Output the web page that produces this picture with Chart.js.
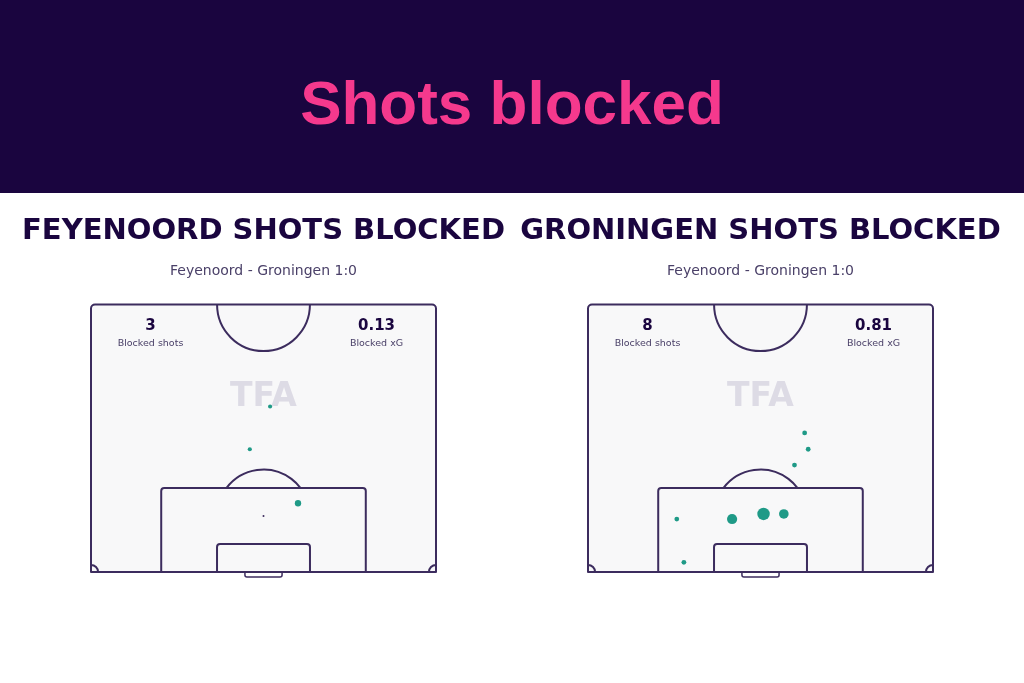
<!DOCTYPE html>
<html>
<head>
<meta charset="utf-8">
<script src="https://cdn.jsdelivr.net/npm/chart.js@4/dist/chart.umd.min.js"></script>
<style>
body{margin:0;background:#fff;width:1024px;height:683px;overflow:hidden;position:relative}
#topo{height:193px;background:#1a053f;position:relative}
#topo h1{margin:0;position:absolute;left:0;right:0;top:67px;text-align:center;color:#f5398d;font:bold 62px "Liberation Sans",Arial,sans-serif;line-height:normal}
.painel{position:absolute;top:193px;width:527px;height:490px}
</style>
</head>
<body>
<div id="topo"><h1>Shots blocked</h1></div>
<div class="painel" style="left:0"><canvas id="graficoFeyenoord"></canvas></div>
<div class="painel" style="left:497px"><canvas id="graficoGroningen"></canvas></div>
<script>

// dados (metros: x = largura 0..68, y = distancia da linha de fundo)
const subtitulo="Feyenoord - Groningen 1:0"

const feyenoordX=[35.3,31.3,40.8]
const feyenoordY=[32.5,24.1,13.5]
const feyenoordXg=[0.03,0.03,0.07]

const groningenX=[42.7,43.4,40.7,17.5,28.4,34.6,38.6,18.9]
const groningenY=[27.3,24.1,21.0,10.4,10.4,11.4,11.4,1.9]
const groningenXg=[0.04,0.04,0.04,0.04,0.18,0.27,0.16,0.04]

const LINHA="#3c2c5e"
const ROXO="#1a053f"
const TEXTO="#4a4068"
const PONTO="#1f9a87"

// meio campo
const LARG=68
const COMP=52.5
// espaco lateral em metros (91px de cada lado num campo de 345px)
const MARGEM=91*LARG/345

const campoPlugin={
id:"campo",
beforeDatasetsDraw(chart){
const {ctx,scales}=chart
const X=v=>scales.x.getPixelForValue(v)
const Y=v=>scales.y.getPixelForValue(v)
const m=(X(1)-X(0))
const esq=X(0),dir=X(LARG),topo=Y(COMP),fundo=Y(0)

ctx.save()

// fundo
ctx.fillStyle="#f8f8f9"
ctx.beginPath()
ctx.roundRect(esq,topo,dir-esq,fundo-topo,[4,4,0,0])
ctx.fill()

// marca d'agua
ctx.fillStyle="#dddbe5"
ctx.font="bold 33px 'DejaVu Sans'"
ctx.textAlign="center"
ctx.textBaseline="middle"
ctx.fillText("TFA",X(LARG/2),Y(34.2))

ctx.strokeStyle=LINHA
ctx.lineWidth=2
ctx.lineJoin="round"

// contorno
ctx.beginPath()
ctx.roundRect(esq,topo,dir-esq,fundo-topo,[4,4,0,0])
ctx.stroke()

// circulo central
ctx.beginPath()
ctx.arc(X(34),topo,9.15*m,0,Math.PI)
ctx.stroke()

// grande area e pequena area
function area(meia,prof){
ctx.beginPath()
ctx.moveTo(X(34-meia),Y(0))
ctx.arcTo(X(34-meia),Y(prof),X(34+meia),Y(prof),3)
ctx.arcTo(X(34+meia),Y(prof),X(34+meia),Y(0),3)
ctx.lineTo(X(34+meia),Y(0))
ctx.stroke()
}
area(20.16,16.5)
area(9.16,5.5)

// meia lua
let ang=Math.asin((16.5-11)/9.15)
ctx.beginPath()
ctx.arc(X(34),Y(11),9.15*m,Math.PI+ang,2*Math.PI-ang)
ctx.stroke()

// marca do penalti
ctx.fillStyle=LINHA
ctx.beginPath()
ctx.arc(X(34),Y(11),1,0,2*Math.PI)
ctx.fill()

// gol
ctx.lineWidth=1.5
ctx.beginPath()
ctx.roundRect(X(34-3.66),fundo,X(34+3.66)-X(34-3.66),m,[0,0,2,2])
ctx.stroke()

// escanteios
ctx.lineWidth=2
ctx.beginPath()
ctx.arc(esq,fundo,1.4*m,-Math.PI/2,0)
ctx.stroke()
ctx.beginPath()
ctx.arc(dir,fundo,1.4*m,Math.PI,1.5*Math.PI)
ctx.stroke()

// numeros
const o=chart.options.plugins.campo
ctx.textAlign="center"
ctx.textBaseline="middle"
ctx.fillStyle=ROXO
ctx.font="bold 15px 'DejaVu Sans'"
ctx.fillText(o.chutes,esq+59.5,topo+22)
ctx.fillText(o.xg,dir-59.5,topo+22)
ctx.fillStyle=TEXTO
ctx.font="9.5px 'DejaVu Sans'"
ctx.fillText("Blocked shots",esq+59.5,topo+38.5)
ctx.fillText("Blocked xG",dir-59.5,topo+38.5)

ctx.restore()
}
}

function graficoCampo(id,titulo,xs,ys,xg){

let pontos=xs.map((v,i)=>({x:v,y:ys[i]}))
let somaXg=xg.reduce((s,v)=>s+v,0)

new Chart(document.getElementById(id),{
type:"scatter",
data:{
datasets:[{
data:pontos,
backgroundColor:PONTO,
borderWidth:0,
pointRadius:c=>12*Math.sqrt(xg[c.dataIndex]),
pointHoverRadius:c=>12*Math.sqrt(xg[c.dataIndex]),
clip:false
}]
},
options:{
responsive:true,
maintainAspectRatio:false,
animation:false,
events:[],
layout:{autoPadding:false,padding:{top:0,bottom:111,left:0,right:0}},
plugins:{
legend:{display:false},
tooltip:{enabled:false},
title:{
display:true,
text:titulo,
color:ROXO,
font:{family:"'DejaVu Sans'",size:29,weight:"bold",lineHeight:1.2},
padding:{top:21,bottom:0}
},
subtitle:{
display:true,
text:subtitulo,
color:TEXTO,
font:{family:"'DejaVu Sans'",size:14,lineHeight:1.2},
padding:{top:14,bottom:25}
},
campo:{chutes:String(xs.length),xg:somaXg.toFixed(2)}
},
scales:{
x:{type:"linear",min:-MARGEM,max:LARG+MARGEM,display:false},
y:{type:"linear",min:0,max:COMP,display:false}
}
},
plugins:[campoPlugin]
})

}

graficoCampo("graficoFeyenoord","FEYENOORD SHOTS BLOCKED",feyenoordX,feyenoordY,feyenoordXg)
graficoCampo("graficoGroningen","GRONINGEN SHOTS BLOCKED",groningenX,groningenY,groningenXg)

</script>
</body>
</html>
